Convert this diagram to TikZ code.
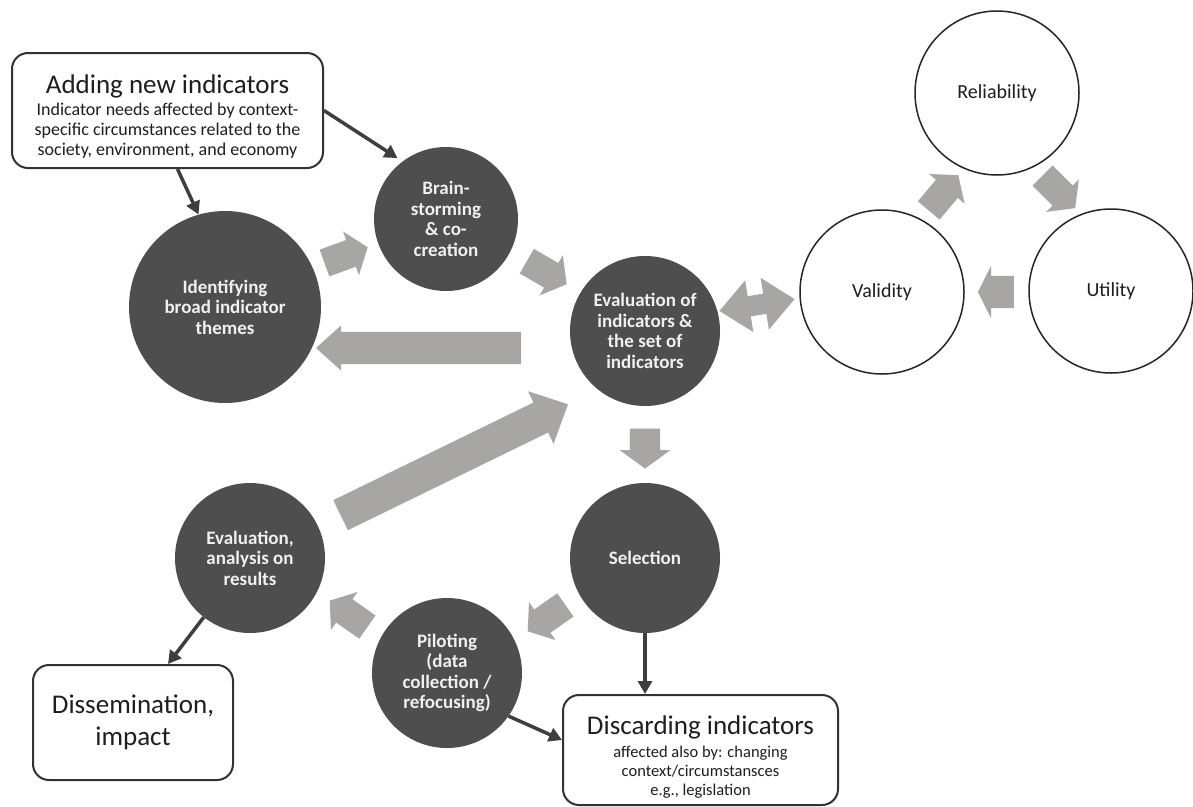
\documentclass[tikz,border=0pt]{standalone}
\usepackage{fontspec}
\setmainfont{Carlito}
\usetikzlibrary{arrows.meta,shapes.arrows}
\definecolor{darkfill}{RGB}{78,78,78}
\definecolor{arrowgray}{RGB}{168,165,165}
\definecolor{linegray}{RGB}{62,62,62}
\definecolor{boxline}{RGB}{50,50,50}
\definecolor{txt}{RGB}{30,30,30}
\definecolor{circtxt}{RGB}{240,240,240}
\begin{document}
\begin{tikzpicture}[x=1pt,y=1pt,
  dcirc/.style={circle, fill=darkfill, text=circtxt, font=\bfseries\fontsize{19}{20.5}\selectfont, align=center, inner sep=0pt, minimum size=#1},
  wcirc/.style={circle, draw=black!85, line width=1.5pt, fill=white, minimum size=164pt, font=\fontsize{20}{24}\selectfont, text=txt, inner sep=0pt},
  infobox/.style={draw=boxline, line width=2pt, rounded corners=16pt, fill=white, align=center, text=txt, inner sep=0pt},
  conn/.style={draw=linegray, line width=3.5pt, -{Triangle[length=13pt,width=14pt]}},
  garrow/.style={single arrow, fill=arrowgray, inner xsep=0pt, outer sep=0pt},
  cyc/.style={garrow, minimum height=46pt, minimum width=46pt, inner ysep=14pt, single arrow head extend=9pt, single arrow tip angle=105},
  ]
\fill[white] (0,0) rectangle (1193,-806);
\useasboundingbox (0,0) rectangle (1193,-806);

% dark process circles
\node[dcirc=192pt] (ident) at (225,-307) {Identifying\\broad indicator\\themes};
\node[dcirc=144pt] (brain) at (446,-219) {Brain-\\storming\\\& co-\\creation};
\node[dcirc=150pt] (eval) at (645,-331) {Evaluation of\\indicators \&\\the set of\\indicators};
\node[dcirc=150pt] (sel) at (645,-558) {Selection};
\node[dcirc=150pt] (pilot) at (447,-673) {Piloting\\(data\\collection /\\refocusing)};
\node[dcirc=150pt] (evres) at (250,-558) {Evaluation,\\analysis on\\results};

% white criteria circles
\node[wcirc] (rel) at (997,-93) {Reliability};
\node[wcirc] (val) at (882,-292) {Validity};
\node[wcirc] (util) at (1111,-291) {Utility};

% text boxes
\node[infobox, minimum width=311pt, minimum height=115pt, font=\fontsize{18}{20}\selectfont] (add) at (167.5,-110.5)
  {{\fontsize{27}{27}\selectfont\rule{0pt}{30pt}Adding new indicators}\\[2pt]Indicator needs affected by context-\\specific circumstances related to the\\society, environment, and economy};
\node[infobox, minimum width=275pt, minimum height=110pt, font=\fontsize{16.5}{19}\selectfont] (disc) at (700.5,-750)
  {{\fontsize{27}{27}\selectfont\rule{0pt}{33pt}Discarding indicators}\\[4.5pt]affected also by: changing\\context/circumstansces\\e.g., legislation};
\node[infobox, minimum width=200pt, minimum height=115pt, font=\fontsize{27}{32}\selectfont] (diss) at (133,-722.5)
  {Dissemination,\\impact};

% dark connectors
\draw[conn, shorten >=6pt] (add.east) -- (brain.127);
\draw[conn] ([xshift=10pt]add.south) -- (ident.106);
\draw[conn] (evres.232) -- ([xshift=35pt]diss.north);
\draw[conn] (sel.south) -- (sel.south |- disc.north);
\draw[conn] (pilot.-35) -- ([yshift=10pt]disc.west);

% grey block arrows
\node[cyc, rotate=20] (ia) at (341,-257) {};
\node[cyc, rotate=-30] (be) at (542,-270) {};
\node[garrow, minimum height=205pt, minimum width=45pt, inner ysep=16pt, single arrow head extend=6.5pt, single arrow tip angle=84, rotate=180] (el) at (427.5,-348) {};
\node[garrow, minimum height=253pt, minimum width=58pt, inner ysep=16.5pt, single arrow head extend=12.5pt, single arrow tip angle=88, rotate=26] (re) at (446.5,-463.5) {};
\node[garrow, minimum height=40pt, minimum width=50pt, inner ysep=15pt, single arrow head extend=10pt, single arrow tip angle=108, rotate=-90] (es) at (645,-443) {};
\node[cyc, rotate=215] (sp) at (551,-615) {};
\node[cyc, rotate=145] (pe) at (353,-617) {};
\node[double arrow, fill=arrowgray, inner xsep=0pt, inner ysep=10pt, minimum height=76pt, minimum width=52pt, double arrow head extend=16pt, double arrow tip angle=82, rotate=9] (ev) at (757,-305) {};
\node[cyc, rotate=50] (vr) at (940,-197) {};
\node[cyc, rotate=-45] (ru) at (1055,-188) {};
\node[garrow, minimum height=36pt, minimum width=52pt, inner ysep=16pt, single arrow head extend=10pt, single arrow tip angle=127, rotate=180] (uv) at (1000,-292) {};
\end{tikzpicture}
\end{document}
